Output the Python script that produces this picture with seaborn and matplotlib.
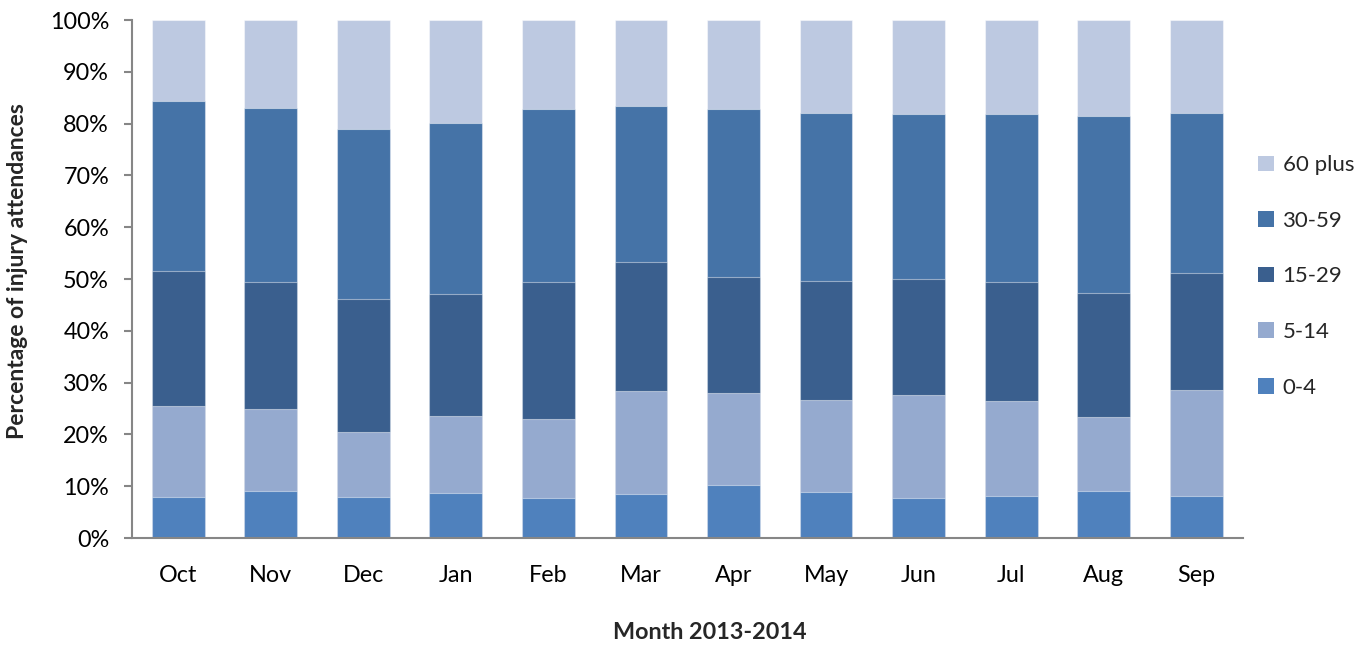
import matplotlib
matplotlib.use("Agg")
import matplotlib.pyplot as plt
import seaborn as sns
import numpy as np
import pandas as pd
from matplotlib.patches import Patch
from matplotlib.ticker import FuncFormatter

months = ["Oct", "Nov", "Dec", "Jan", "Feb", "Mar", "Apr", "May", "Jun", "Jul", "Aug", "Sep"]
age_0_4 = [7.9, 9.1, 7.9, 8.7, 7.7, 8.5, 10.2, 8.9, 7.7, 8.1, 9.1, 8.1]
age_5_14 = [17.6, 15.8, 12.6, 14.9, 15.3, 19.9, 17.8, 17.7, 19.9, 18.3, 14.3, 20.5]
age_15_29 = [26.0, 24.5, 25.6, 23.5, 26.4, 24.9, 22.4, 23.0, 22.4, 23.0, 23.9, 22.6]
age_30_59 = [32.9, 33.6, 32.9, 33.0, 33.4, 30.1, 32.4, 32.4, 31.9, 32.5, 34.2, 30.8]
age_60_plus = [15.6, 17.0, 21.0, 19.9, 17.2, 16.6, 17.2, 18.0, 18.1, 18.1, 18.5, 18.0]

series_names = ["0-4", "5-14", "15-29", "30-59", "60 plus"]
series_vals = [age_0_4, age_5_14, age_15_29, age_30_59, age_60_plus]
colors = ["#4F81BD", "#95AACF", "#3A5F8E", "#4573A7", "#BDC9E1"]

sns.set_theme(style="white")
plt.rcParams["font.family"] = ["Lato", "DejaVu Sans"]

fig = plt.figure(figsize=(13.66, 6.46), dpi=100)
ax = fig.add_axes([0.0966, 0.167, 0.813, 0.802])

cum = np.cumsum(np.array(series_vals), axis=0)
for i in range(len(series_names) - 1, -1, -1):
    df = pd.DataFrame({"month": months, "value": cum[i]})
    sns.barplot(data=df, x="month", y="value", color=colors[i], width=0.57,
                edgecolor=(1, 1, 1, 0.45), linewidth=0.8, saturation=1, ax=ax)

ax.set_ylim(0, 100)
ax.set_xlim(-0.5, len(months) - 0.5)
ax.set_yticks(np.arange(0, 101, 10))
ax.yaxis.set_major_formatter(FuncFormatter(lambda v, p: f"{int(v)}%"))
for s in ["top", "right"]:
    ax.spines[s].set_visible(False)
for s in ["left", "bottom"]:
    ax.spines[s].set_color("#868686")
    ax.spines[s].set_linewidth(1.5)
ax.tick_params(axis="y", which="major", left=True, length=5.5, width=1.5, color="#868686",
               labelsize=16.8, pad=11, labelcolor="black")
ax.tick_params(axis="x", bottom=False, labelsize=16.8, pad=13, labelcolor="black")
ax.set_xlabel("Month 2013-2014", fontsize=16.8, fontweight="bold")
ax.xaxis.set_label_coords(0.52, -0.162)
ax.set_ylabel("Percentage of injury attendances", fontsize=16.5, fontweight="bold")
ax.yaxis.set_label_coords(-0.094, 0.515)

handles = [Patch(facecolor=colors[i], edgecolor="none", label=series_names[i])
           for i in range(len(series_names) - 1, -1, -1)]
leg = ax.legend(handles=handles, loc="center left", bbox_to_anchor=(1.0, 0.505),
                frameon=False, fontsize=16, handlelength=0.7, handleheight=0.7,
                labelspacing=1.6, handletextpad=0.4, borderaxespad=0.3)

fig.savefig("out.png", dpi=100)
